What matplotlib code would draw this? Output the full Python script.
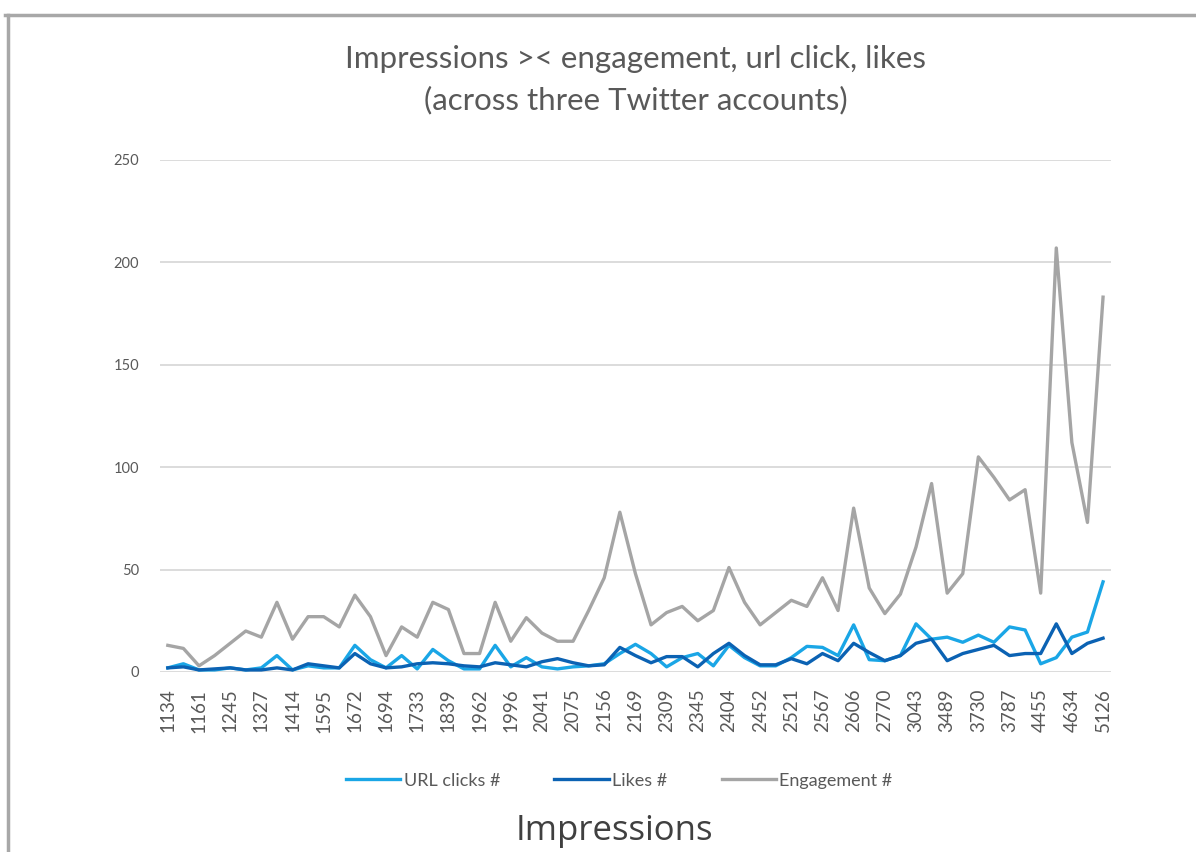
import matplotlib
matplotlib.use("Agg")
import matplotlib.pyplot as plt
from matplotlib.lines import Line2D

# impressions per post (categories on the x axis)
impressions = [
    1134, 1150, 1161, 1200, 1245, 1290, 1327, 1380, 1414, 1500, 1595, 1640, 1672, 1680, 1694,
    1710, 1733, 1800, 1839, 1900, 1962, 1980, 1996, 2020, 2041, 2060, 2075, 2120, 2156, 2160,
    2169, 2250, 2309, 2330, 2345, 2380, 2404, 2430, 2452, 2490, 2521, 2540, 2567, 2590, 2606,
    2700, 2770, 2900, 3043, 3300, 3489, 3600, 3730, 3760, 3787, 4100, 4455, 4500, 4634, 4900,
    5126,
]

url_clicks = [
    2, 4, 1, 1, 2, 1, 2, 8, 1, 3, 2, 2, 13, 6, 2,
    8, 1.5, 11, 5.5, 1.5, 1.5, 13, 2.5, 7, 2.5, 1.5, 2.5, 3, 4,
    9, 13.5, 9, 2.5, 7, 9, 3, 13, 7, 3, 3, 7, 12.5, 12, 8,
    23, 6, 5.5, 8, 23.5, 16, 17, 14.5, 18, 14.5, 22, 20.5, 4, 7, 17, 19.5, 44,
]

likes = [
    2, 2.5, 1, 1.5, 2, 1, 1, 2, 1, 4, 3, 2, 9, 4, 2,
    2.5, 4, 4.5, 4, 3, 2.5, 4.5, 3.5, 2.5, 5, 6.5, 4.5, 3, 3.5,
    12, 8, 4.5, 7.5, 7.5, 2.5, 9, 14, 8, 3.5, 3.5, 6.5, 4, 9, 5.5,
    14, 9.5, 5.5, 8, 14, 16, 5.5, 9, 11, 13, 8, 9, 9, 23.5, 9, 14, 16.5,
]

engagement = [
    13, 11.5, 3, 8, 14, 20, 17, 34, 16, 27, 27, 22, 37.5, 27, 8,
    22, 17, 34, 30.5, 9, 9, 34, 15, 26.5, 19, 15, 15, 30, 46,
    78, 48, 23, 29, 32, 25, 30, 51, 34, 23, 29, 35, 32, 46, 30,
    80, 41, 28.5, 38, 61, 92, 38.5, 48, 105, 95, 84, 89, 38.5, 207, 112, 73, 183,
]

y_ticks = [0, 50, 100, 150, 200, 250]

text_grey = "#595959"
plt.rcParams['font.family'] = ['Lato', 'DejaVu Sans']

fig = plt.figure(figsize=(11.96, 8.52), dpi=100)
ax = fig.add_axes([0.1338, 0.2113, 0.795, 0.601])

x = list(range(len(impressions)))
ax.plot(x, url_clicks, color="#1AA6E6", lw=2.4, label="URL clicks #", zorder=3)
ax.plot(x, likes, color="#0B62B3", lw=2.4, label="Likes #", zorder=4)
ax.plot(x, engagement, color="#A5A5A5", lw=2.4, label="Engagement #", zorder=2)

ax.set_xlim(-0.5, len(x) - 0.5)
ax.set_ylim(0, 250)
ax.set_yticks(y_ticks)
ax.yaxis.grid(True, color="#DCDCDC", lw=1.4)
ax.set_axisbelow(True)
for s in ax.spines.values():
    s.set_visible(False)

ax.set_xticks(x[::2])
ax.set_xticklabels([str(v) for v in impressions[::2]], rotation=90, fontsize=13.5, color=text_grey)
ax.tick_params(axis="x", length=0, pad=12)
ax.tick_params(axis="y", length=0, pad=15, labelsize=10.5, labelcolor=text_grey)

ax.set_title("Impressions >< engagement, url click, likes\n(across three Twitter accounts)",
             fontsize=22.5, color=text_grey, pad=36, linespacing=1.55)

leg = ax.legend(loc="upper center", bbox_to_anchor=(0.483, -0.165), ncol=3, frameon=False,
                fontsize=13, handlelength=3.0, columnspacing=3.0, handletextpad=0.2)
for t in leg.get_texts():
    t.set_color(text_grey)

fig.text(0.514, 0.014, "Impressions", ha="center", va="baseline", fontsize=25,
         color="#404040", family=["Open Sans", "DejaVu Sans"])

# screenshot frame
fig.add_artist(Line2D([0.004, 1.0], [0.982, 0.982], color="#A8A8A8", lw=2.5))
fig.add_artist(Line2D([0.007, 0.007], [0.0, 0.982], color="#A8A8A8", lw=2.5))

fig.savefig("out.png", dpi=100, facecolor="white")
